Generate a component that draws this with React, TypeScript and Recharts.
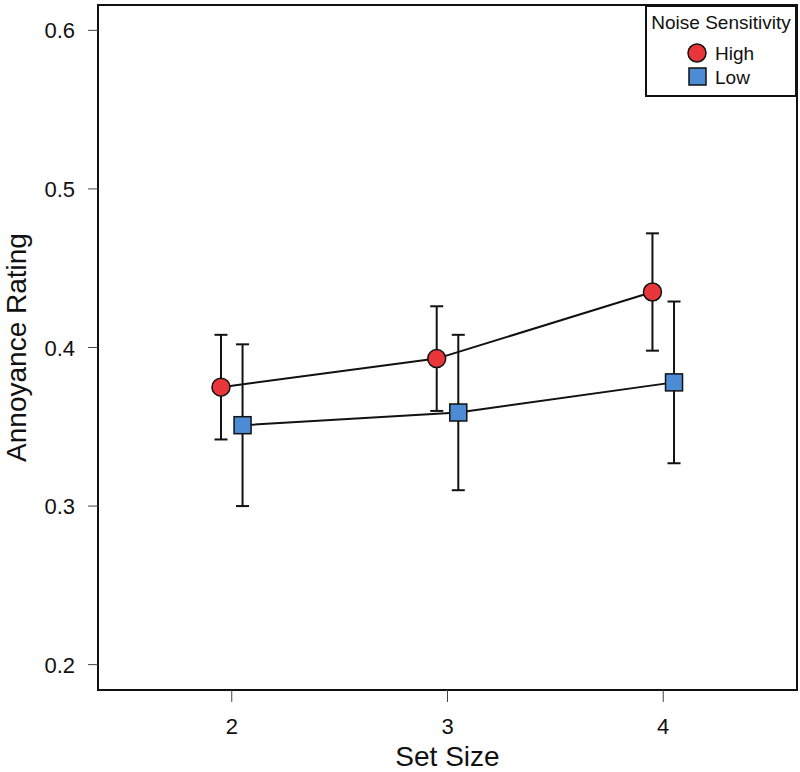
import {
  ComposedChart,
  Scatter,
  XAxis,
  YAxis,
  ErrorBar,
  ReferenceArea,
} from "recharts";

const setSizes = [2, 3, 4];
const highMeans = [0.375, 0.393, 0.435];
const highErrors = [0.033, 0.033, 0.037];
const lowMeans = [0.351, 0.359, 0.378];
const lowErrors = [0.051, 0.049, 0.051];
const yTicks = [0.2, 0.3, 0.4, 0.5, 0.6];

const FONT = "'Liberation Sans', Arial, sans-serif";
const RED = "#E8363B";
const BLUE = "#4B8CD4";
const INK = "#111";
const DODGE = 0.05;

const X_DOMAIN: [number, number] = [1.38, 4.62];
const Y_DOMAIN: [number, number] = [0.184, 0.616];

const highData = setSizes.map((s, i) => ({ x: s - DODGE, y: highMeans[i], err: highErrors[i] }));
const lowData = setSizes.map((s, i) => ({ x: s + DODGE, y: lowMeans[i], err: lowErrors[i] }));

function CircleMark(props: any) {
  const { cx, cy } = props;
  if (cx == null || cy == null) return <g />;
  return <circle cx={cx} cy={cy} r={9} fill={RED} stroke={INK} strokeWidth={1.5} />;
}

function SquareMark(props: any) {
  const { cx, cy } = props;
  if (cx == null || cy == null) return <g />;
  return (
    <rect x={cx - 8.5} y={cy - 8.5} width={17} height={17} fill={BLUE} stroke={INK} strokeWidth={1.5} />
  );
}

const Empty = () => <g />;

function XTick(props: any) {
  const { x, y, payload } = props;
  return (
    <text x={x} y={y} dy={15} textAnchor="middle" fontSize={22} fontFamily={FONT} fill={INK}>
      {payload.value}
    </text>
  );
}

function YTick(props: any) {
  const { x, y, payload } = props;
  return (
    <text x={x} y={y} dy={8} textAnchor="end" fontSize={22} fontFamily={FONT} fill={INK}>
      {Number(payload.value).toFixed(1)}
    </text>
  );
}

function LegendBox() {
  const text = { position: "absolute" as const, fontSize: 19, lineHeight: "19px", color: INK, fontFamily: FONT };
  return (
    <div
      style={{
        position: "absolute",
        left: 645,
        top: 5,
        width: 152,
        height: 92,
        boxSizing: "border-box",
        border: `2px solid ${INK}`,
        background: "white",
      }}
    >
      <div style={{ ...text, left: 0, width: 148, top: 6, textAlign: "center", whiteSpace: "nowrap" }}>
        Noise Sensitivity
      </div>
      <svg width={150} height={88} style={{ position: "absolute", left: -2, top: -2 }}>
        <circle cx={52} cy={48} r={9} fill={RED} stroke={INK} strokeWidth={1.5} />
        <rect x={44} y={63} width={17} height={17} fill={BLUE} stroke={INK} strokeWidth={1.5} />
      </svg>
      <div style={{ ...text, left: 68, top: 37 }}>High</div>
      <div style={{ ...text, left: 68, top: 61 }}>Low</div>
    </div>
  );
}

export default function App() {
  return (
    <div style={{ position: "absolute", left: 0, top: 0, width: 800, height: 772, background: "white" }}>
      <ComposedChart width={800} height={772} margin={{ top: 5, right: 3, bottom: 0, left: 0 }}>
        <XAxis
          type="number"
          dataKey="x"
          domain={X_DOMAIN}
          allowDataOverflow
          ticks={setSizes}
          height={82}
          tickSize={12}
          tickMargin={17}
          tickLine={{ stroke: "#444", strokeWidth: 1 }}
          axisLine={{ stroke: INK, strokeWidth: 2 }}
          tick={<XTick />}
          label={(p: any) => (
            <text
              x={p.viewBox.x + p.viewBox.width / 2}
              y={p.viewBox.y + 76}
              textAnchor="middle"
              fontSize={28}
              fontFamily={FONT}
              fill={INK}
            >
              Set Size
            </text>
          )}
        />
        <YAxis
          type="number"
          dataKey="y"
          domain={Y_DOMAIN}
          allowDataOverflow
          ticks={yTicks}
          width={98}
          tickSize={10}
          tickMargin={13}
          tickLine={{ stroke: "#444", strokeWidth: 1 }}
          axisLine={{ stroke: INK, strokeWidth: 2 }}
          tick={<YTick />}
          label={(p: any) => {
            const x = p.viewBox.x + 26;
            const y = p.viewBox.y + p.viewBox.height / 2;
            return (
              <text
                x={x}
                y={y}
                transform={`rotate(-90, ${x}, ${y})`}
                textAnchor="middle"
                fontSize={28}
                fontFamily={FONT}
                fill={INK}
              >
                Annoyance Rating
              </text>
            );
          }}
        />

        {/* box round the plot region */}
        <ReferenceArea
          x1={X_DOMAIN[0]}
          x2={X_DOMAIN[1]}
          y1={Y_DOMAIN[0]}
          y2={Y_DOMAIN[1]}
          fill="none"
          stroke={INK}
          strokeWidth={2}
          ifOverflow="visible"
        />

        {/* lines + markers */}
        <Scatter
          name="High"
          data={highData}
          dataKey="y"
          line={{ stroke: INK, strokeWidth: 2 }}
          lineType="joint"
          shape={CircleMark}
          isAnimationActive={false}
        />
        <Scatter
          name="Low"
          data={lowData}
          dataKey="y"
          line={{ stroke: INK, strokeWidth: 2 }}
          lineType="joint"
          shape={SquareMark}
          isAnimationActive={false}
        />

        {/* error bars drawn over the markers */}
        <Scatter data={highData} dataKey="y" shape={Empty} legendType="none" isAnimationActive={false}>
          <ErrorBar dataKey="err" direction="y" width={6.5} stroke={INK} strokeWidth={2} isAnimationActive={false} />
        </Scatter>
        <Scatter data={lowData} dataKey="y" shape={Empty} legendType="none" isAnimationActive={false}>
          <ErrorBar dataKey="err" direction="y" width={6.5} stroke={INK} strokeWidth={2} isAnimationActive={false} />
        </Scatter>
      </ComposedChart>
      <LegendBox />
    </div>
  );
}
